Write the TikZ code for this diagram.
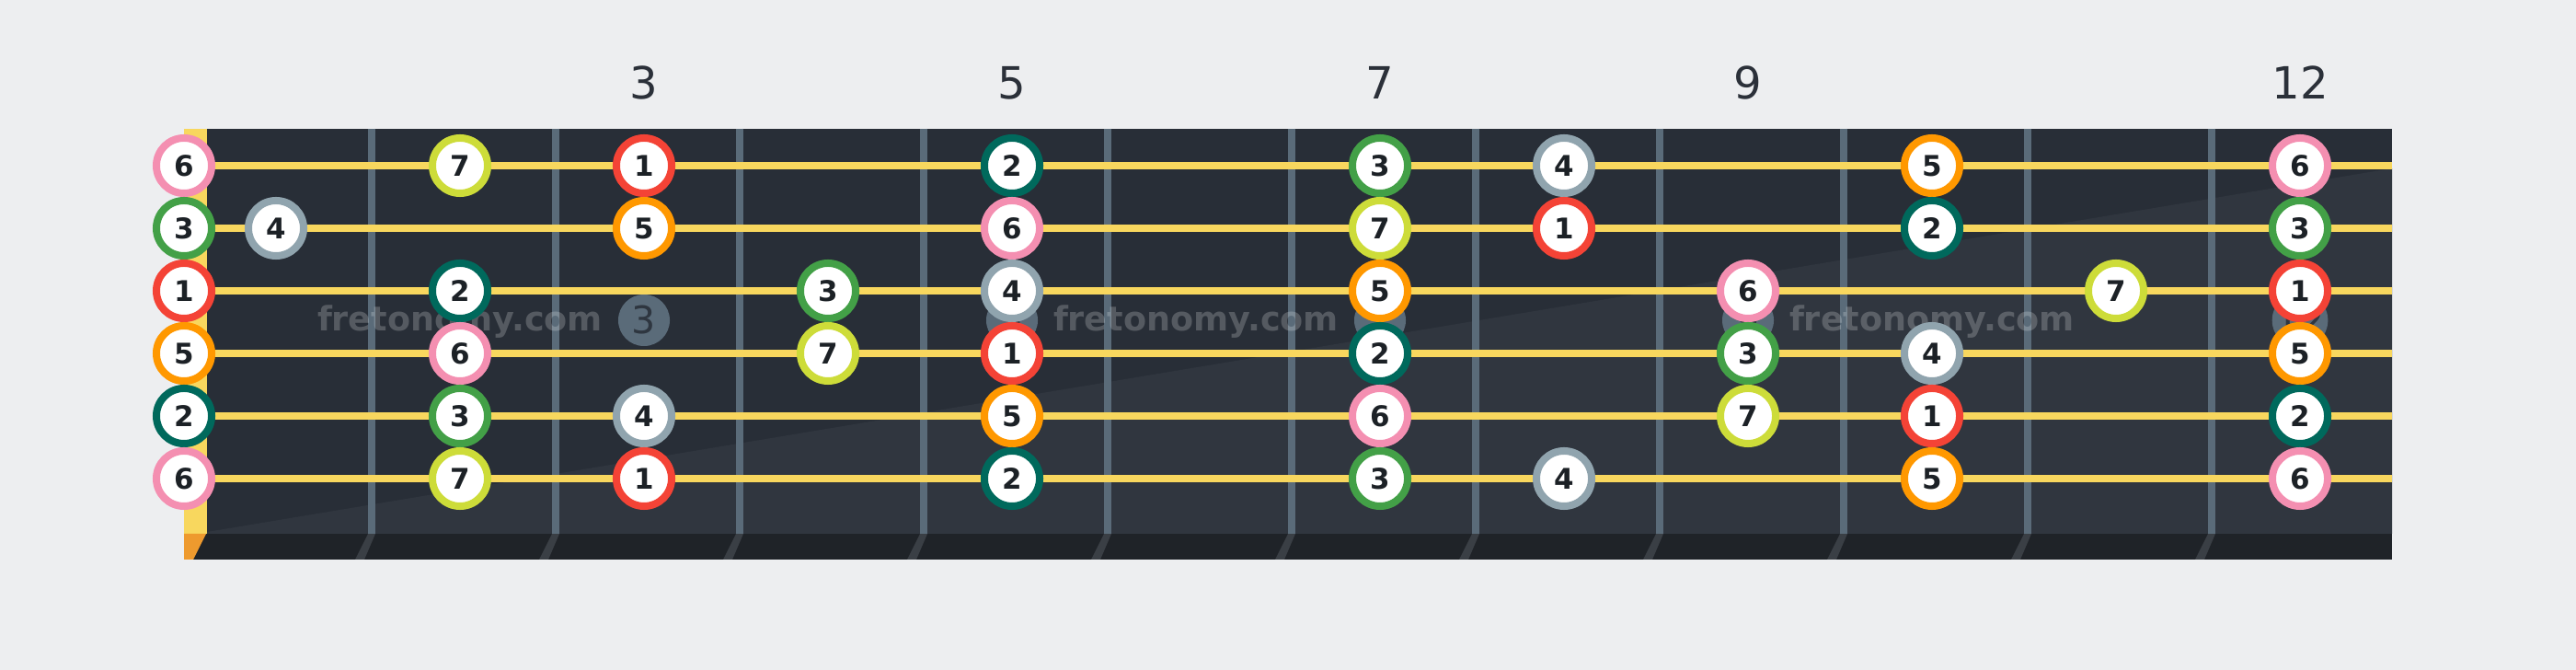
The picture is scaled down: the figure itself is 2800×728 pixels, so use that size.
\documentclass[tikz,border=0pt]{standalone}
\usepackage{fontspec}
\setmainfont{DejaVu Sans}
\usetikzlibrary{positioning}

\definecolor{bgpaper}{HTML}{EDEEF0}
\definecolor{boarddark}{HTML}{282E37}
\definecolor{boardlight}{HTML}{30363F}
\definecolor{nutyellow}{HTML}{F8D75E}
\definecolor{nutorange}{HTML}{EE9A2E}
\definecolor{fretgray}{HTML}{5A6B79}
\definecolor{bottomdark}{HTML}{1F2328}
\definecolor{fretedge}{HTML}{3A3F45}
\definecolor{numtext}{HTML}{2B3039}
\definecolor{notetext}{HTML}{1C2126}
\definecolor{inlaytext}{HTML}{2E3640}
% scale degree colours
\definecolor{deg1}{HTML}{F44336}
\definecolor{deg2}{HTML}{00695C}
\definecolor{deg3}{HTML}{43A047}
\definecolor{deg4}{HTML}{90A4AE}
\definecolor{deg5}{HTML}{FF9800}
\definecolor{deg6}{HTML}{F48FB1}
\definecolor{deg7}{HTML}{CDDC39}

\begin{document}
\begin{tikzpicture}[
    x=0.01cm, y=-0.01cm,
    note/.style={circle, draw, line width=0.08cm, fill=white, minimum size=0.6cm, inner sep=0pt,
        font=\bfseries\fontsize{8.8}{9}\selectfont, text=notetext},
    fretwire/.style={draw=fretgray, line width=0.08cm},
    gtrstring/.style={draw=nutyellow, line width=0.08cm},
    inlay/.style={circle, fill=fretgray, minimum size=0.56cm, inner sep=0pt,
        font=\fontsize{11.7}{12}\selectfont, text=inlaytext},
    fretnum/.style={font=\fontsize{13.7}{14}\selectfont, text=numtext},
    watermark/.style={font=\bfseries\fontsize{10.4}{11}\selectfont, text=white, text opacity=0.21}
]
% Paper
\fill[bgpaper] (0,0) rectangle (2800,728);
\useasboundingbox (0,0) rectangle (2800,728);

% Fretboard and shading
\fill[boarddark] (225,140) rectangle (2600,580);
\fill[boardlight] (225,578) -- (2600,183) -- (2600,580) -- (225,580) -- cycle;
\fill[nutyellow] (200,140) rectangle (225,580);

% Board edge
\fill[bottomdark] (200,580) rectangle (2600,608);
\fill[nutorange] (200,580) -- (224,580) -- (210,608) -- (200,608) -- cycle;
\foreach \n in {1,...,11}
    \fill[fretedge] (200+200*\n,580) -- (208+200*\n,580) -- (196+200*\n,608) -- (186+200*\n,608) -- cycle;

% Fret wires
\foreach \n in {1,...,11}
    \draw[fretwire] (204+200*\n,140) -- (204+200*\n,580);

% Inlays
\foreach \m in {3,5,7,9,12}
    \node[inlay] (inlay\m) at (100+200*\m,348) {\m};

% Strings
\foreach \y [count=\s] in {180,248,316,384,452,520} {
    \coordinate (str\s-a) at (225,\y);
    \coordinate (str\s-b) at (2600,\y);
    \draw[gtrstring] (str\s-a) -- (str\s-b);
}

% Watermark
\node[watermark] (wm1) at (500,350) {fretonomy.com};
\node[watermark] (wm2) at (1300,350) {fretonomy.com};
\node[watermark] (wm3) at (2100,350) {fretonomy.com};

% Notes: fret/degree per string
\foreach \s/\y/\notes in {
    1/180/{0/6,2/7,3/1,5/2,7/3,8/4,10/5,12/6},
    2/248/{0/3,1/4,3/5,5/6,7/7,8/1,10/2,12/3},
    3/316/{0/1,2/2,4/3,5/4,7/5,9/6,11/7,12/1},
    4/384/{0/5,2/6,4/7,5/1,7/2,9/3,10/4,12/5},
    5/452/{0/2,2/3,3/4,5/5,7/6,9/7,10/1,12/2},
    6/520/{0/6,2/7,3/1,5/2,7/3,8/4,10/5,12/6}} {
    \foreach \f/\d in \notes {
        \pgfmathsetmacro\nx{ifthenelse(\f==0,200,100+200*\f)}
        \node[note, draw=deg\d] (s\s-f\f) at (\nx,\y) {\d};
    }
}

% Fret numbers
\foreach \m in {3,5,7,9,12}
    \node[fretnum] (fn\m) at (100+200*\m,90) {\m};

\end{tikzpicture}
\end{document}
